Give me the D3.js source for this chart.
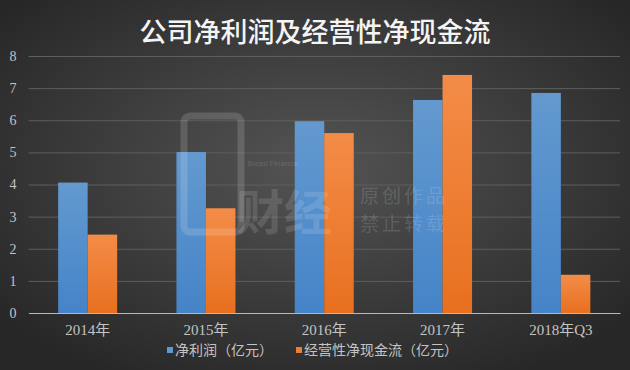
<!DOCTYPE html>
<html>
<head>
<meta charset="utf-8">
<script src="https://cdn.jsdelivr.net/npm/d3@7"></script>
<style>
  html, body { margin: 0; padding: 0; background: #333; }
  svg { display: block; }
</style>
</head>
<body>
<div id="chart"></div>
<script>
'use strict';

const categories = ['2014年', '2015年', '2016年', '2017年', '2018年Q3'];
const netProfit = [4.06, 5.01, 5.97, 6.63, 6.85];
const operatingCash = [2.44, 3.26, 5.6, 7.41, 1.19];
const seriesNames = ['净利润（亿元）', '经营性净现金流（亿元）'];
const yTicks = [0, 1, 2, 3, 4, 5, 6, 7, 8];

const width = 630, height = 370;
const margin = { top: 56, right: 10, bottom: 57, left: 28.5 };
const plotWidth = width - margin.left - margin.right;
const plotHeight = height - margin.top - margin.bottom;

const svg = d3.select('#chart').append('svg')
  .attr('width', width)
  .attr('height', height);

const defs = svg.append('defs');
const bg = defs.append('radialGradient')
  .attr('id', 'bg')
  .attr('cx', '50%').attr('cy', '45%').attr('r', '65%');
bg.append('stop').attr('offset', '0%').attr('stop-color', '#545454');
bg.append('stop').attr('offset', '100%').attr('stop-color', '#272727');

const blueGrad = defs.append('linearGradient')
  .attr('id', 'blue').attr('x1', 0).attr('y1', 0).attr('x2', 0).attr('y2', 1);
blueGrad.append('stop').attr('offset', '0%').attr('stop-color', '#6399cf');
blueGrad.append('stop').attr('offset', '100%').attr('stop-color', '#4584c8');

const orangeGrad = defs.append('linearGradient')
  .attr('id', 'orange').attr('x1', 0).attr('y1', 0).attr('x2', 0).attr('y2', 1);
orangeGrad.append('stop').attr('offset', '0%').attr('stop-color', '#f38c48');
orangeGrad.append('stop').attr('offset', '100%').attr('stop-color', '#e8701f');

svg.append('rect')
  .attr('width', width)
  .attr('height', height)
  .attr('fill', 'url(#bg)');

// title
svg.append('text')
  .attr('x', width / 2)
  .attr('y', 42)
  .attr('text-anchor', 'middle')
  .attr('fill', '#f4f4f4')
  .style('font-family', '"Noto Sans CJK SC", sans-serif')
  .style('font-size', '27px')
  .style('font-weight', 500)
  .text('公司净利润及经营性净现金流');

const plot = svg.append('g')
  .attr('transform', `translate(${margin.left}, ${margin.top})`);

const x = d3.scaleBand()
  .domain(categories)
  .range([0, plotWidth])
  .paddingInner(0)
  .paddingOuter(0);

const y = d3.scaleLinear()
  .domain([0, 8])
  .range([plotHeight, 0]);

// grid lines
plot.append('g')
  .selectAll('line')
  .data(yTicks.filter((d) => d > 0))
  .enter().append('line')
    .attr('x1', 0)
    .attr('x2', plotWidth)
    .attr('y1', (d) => y(d) + 0.5)
    .attr('y2', (d) => y(d) + 0.5)
    .attr('stroke', '#5e5e5e')
    .attr('stroke-width', 1);

// watermark
const wm = svg.append('g')
  .attr('fill', '#ffffff')
  .attr('fill-opacity', 0.15)
  .style('font-family', '"Noto Sans CJK SC", sans-serif');
wm.append('rect')
  .attr('x', 184).attr('y', 116).attr('width', 57).attr('height', 116)
  .attr('rx', 6)
  .attr('fill', 'none')
  .attr('stroke', '#ffffff')
  .attr('stroke-opacity', 0.15)
  .attr('stroke-width', 7);
wm.append('text')
  .attr('x', 247).attr('y', 166)
  .style('font-size', '8px')
  .style('font-family', 'Roboto, sans-serif')
  .text('Bread Finance');
wm.append('text')
  .attr('x', 236).attr('y', 230)
  .style('font-size', '48px')
  .style('font-weight', 700)
  .text('财经');
wm.append('text')
  .attr('x', 360).attr('y', 203)
  .style('font-size', '19px')
  .style('letter-spacing', '3px')
  .text('原创作品');
wm.append('text')
  .attr('x', 360).attr('y', 231)
  .style('font-size', '19px')
  .style('letter-spacing', '3px')
  .text('禁止转载');

// bars
const barWidth = 29.5;
const groups = plot.selectAll('.bar-group')
  .data(categories)
  .enter().append('g')
    .attr('class', 'bar-group')
    .attr('transform', (d) => `translate(${x(d) + x.bandwidth() / 2}, 0)`);

groups.append('rect')
  .attr('x', -barWidth)
  .attr('width', barWidth)
  .attr('y', (d, i) => y(netProfit[i]))
  .attr('height', (d, i) => plotHeight - y(netProfit[i]))
  .attr('fill', 'url(#blue)');

groups.append('rect')
  .attr('x', 0)
  .attr('width', barWidth)
  .attr('y', (d, i) => y(operatingCash[i]))
  .attr('height', (d, i) => plotHeight - y(operatingCash[i]))
  .attr('fill', 'url(#orange)');

// x axis
const xAxis = plot.append('g')
  .attr('transform', `translate(0, ${plotHeight})`)
  .call(d3.axisBottom(x).tickSize(0).tickPadding(11));
xAxis.select('.domain')
  .attr('stroke', '#b8b8b8')
  .attr('stroke-width', 1.2);
xAxis.selectAll('text')
  .attr('fill', '#c4c4c4')
  .style('font-family', '"Liberation Serif", "Noto Sans CJK SC", serif')
  .style('font-size', '15px');

// y axis labels
const yAxis = plot.append('g')
  .call(d3.axisLeft(y).tickValues(yTicks).tickSize(0).tickPadding(12).tickFormat(d3.format('d')));
yAxis.select('.domain').remove();
yAxis.selectAll('text')
  .attr('fill', '#c4c4c4')
  .style('font-family', '"Liberation Serif", serif')
  .style('font-size', '14px');

// legend
const legendItems = [
  { name: seriesNames[0], color: '#5b9bd5', x: 167 },
  { name: seriesNames[1], color: '#ed7d31', x: 296 }
];
const legend = svg.append('g')
  .attr('transform', 'translate(0, 355)');
legend.selectAll('rect')
  .data(legendItems)
  .enter().append('rect')
    .attr('x', (d) => d.x)
    .attr('y', -8)
    .attr('width', 6)
    .attr('height', 6)
    .attr('fill', (d) => d.color);
legend.selectAll('text')
  .data(legendItems)
  .enter().append('text')
    .attr('x', (d) => d.x + 8)
    .attr('y', 0)
    .attr('fill', '#c4c4c4')
    .style('font-family', '"Noto Sans CJK SC", sans-serif')
    .style('font-size', '14px')
    .text((d) => d.name);
</script>
</body>
</html>
